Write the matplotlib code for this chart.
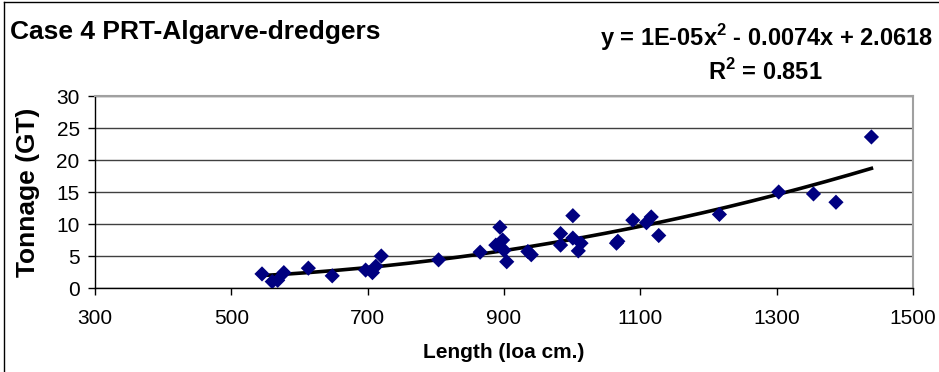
import numpy as np
import matplotlib.pyplot as plt
from matplotlib.lines import Line2D

# data
length_cm = [545, 560, 568, 577, 613, 648, 697, 707, 712, 720,
             804, 865, 888, 894, 898, 900, 904, 935, 940, 983,
             983, 1001, 1001, 1013, 1009, 1065, 1067, 1089, 1109, 1116,
             1127, 1216, 1303, 1354, 1387, 1439]
tonnage_gt = [2.2, 1.0, 1.2, 2.4, 3.1, 1.9, 2.8, 2.4, 3.4, 5.0,
              4.4, 5.6, 6.7, 9.5, 7.5, 5.9, 4.1, 5.7, 5.2, 8.5,
              6.7, 11.3, 7.8, 7.0, 5.8, 7.0, 7.3, 10.6, 10.2, 11.1,
              8.2, 11.5, 15.0, 14.7, 13.4, 23.6]
x_ticks = [300, 500, 700, 900, 1100, 1300, 1500]
y_ticks = [0, 5, 10, 15, 20, 25, 30]

title_text = 'Case 4 PRT-Algarve-dredgers'
eq_text = r'y = 1E-05x$^\mathbf{2}$ - 0.0074x + 2.0618'
r2_text = r'R$^\mathbf{2}$ = 0.851'

plt.rcParams['font.family'] = ['Liberation Sans', 'DejaVu Sans']
plt.rcParams['mathtext.fontset'] = 'custom'
plt.rcParams['mathtext.bf'] = 'Liberation Sans:bold'
plt.rcParams['mathtext.rm'] = 'Liberation Sans'

W, H = 939, 372
fig = plt.figure(figsize=(W / 100, H / 100), dpi=100)
ax = fig.add_axes([95 / W, 1 - 288 / H, (913 - 95) / W, (288 - 96) / H])

x = np.array(length_cm)
y = np.array(tonnage_gt)

# 2nd order trend line, fitted on the points
coef = np.polyfit(x, y, 2)
xs = np.linspace(x.min(), x.max(), 200)
ax.plot(xs, np.polyval(coef, xs), color='black', linewidth=2.6, zorder=2)

ax.scatter(x, y, marker='D', s=60, color='#000080', edgecolors='none', zorder=3)

ax.set_xlim(300, 1500)
ax.set_ylim(0, 30)
ax.set_xticks(x_ticks)
ax.set_yticks(y_ticks)
ax.tick_params(axis='x', direction='out', length=5, width=1, pad=10, labelsize=15)
ax.tick_params(axis='y', direction='out', length=5, width=1, pad=6, labelsize=15)
ax.grid(axis='y', color='#404040', linewidth=1)
ax.set_axisbelow(True)

for side in ['top', 'right']:
    ax.spines[side].set_color('#a0a0a0')
    ax.spines[side].set_linewidth(1.5)
for side in ['left', 'bottom']:
    ax.spines[side].set_color('black')
    ax.spines[side].set_linewidth(1)

ax.set_xlabel('Length (loa cm.)', fontsize=15, fontweight='bold')
ax.xaxis.set_label_coords(0.5, -(352 - 288) / (288 - 96), transform=ax.transAxes)
ax.xaxis.label.set_va('center')
ax.set_ylabel('Tonnage (GT)', fontsize=19, fontweight='bold')
ax.yaxis.set_label_coords(-(95 - 28) / (913 - 95), 0.5, transform=ax.transAxes)
ax.yaxis.label.set_va('center')

fig.text(10 / W, 1 - 32 / H, title_text, fontsize=19, fontweight='bold', va='center', ha='left')
fig.text(933 / W, 1 - 38 / H, eq_text, fontsize=17, fontweight='bold', va='center', ha='right')
fig.text(765 / W, 1 - 72 / H, r2_text, fontsize=17, fontweight='bold', va='center', ha='center')

# chart area border (left and top visible)
fig.add_artist(Line2D([4 / W, 4 / W], [0, 1 - 2 / H], color='black', linewidth=1, transform=fig.transFigure))
fig.add_artist(Line2D([4 / W, 1], [1 - 2 / H, 1 - 2 / H], color='black', linewidth=1, transform=fig.transFigure))

fig.savefig('out.png', dpi=100, facecolor='white')
